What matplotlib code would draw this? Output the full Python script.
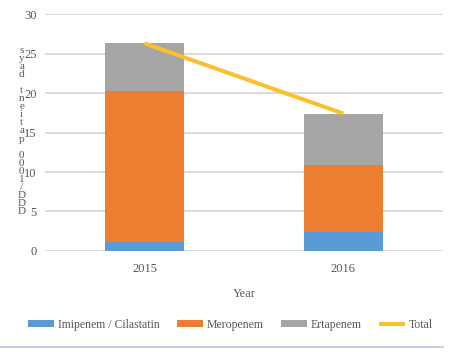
import matplotlib.pyplot as plt
from matplotlib.lines import Line2D

plt.rcParams['font.family'] = ['Liberation Serif', 'DejaVu Serif']

years = ['2015', '2016']
imipenem = [1.2, 2.45]
meropenem = [19.1, 8.45]
ertapenem = [6.0, 6.5]
total = [26.3, 17.4]

c_imi = '#5B9BD5'
c_mero = '#ED7D31'
c_erta = '#A5A5A5'
c_tot = '#FBC02D'
txt = '#595959'

fig = plt.figure(figsize=(4.52, 3.52), dpi=100)
ax = fig.add_axes([0.0996, 0.287, 0.880, 0.673])

x = range(len(years))
w = 0.4
b1 = ax.bar(x, imipenem, w, color=c_imi, label='Imipenem / Cilastatin', zorder=3)
bottom2 = imipenem
b2 = ax.bar(x, meropenem, w, bottom=bottom2, color=c_mero, label='Meropenem', zorder=3)
bottom3 = [a + b for a, b in zip(imipenem, meropenem)]
b3 = ax.bar(x, ertapenem, w, bottom=bottom3, color=c_erta, label='Ertapenem', zorder=3)
ln, = ax.plot(x, total, color=c_tot, lw=2.9, label='Total', zorder=4, solid_capstyle='butt')

ax.set_xlim(-0.5, 1.5)
ax.set_ylim(0, 30)
ax.set_yticks(range(0, 31, 5))
ax.set_xticks(list(x))
ax.set_xticklabels(years)
ax.yaxis.grid(True, color='#D9D9D9', lw=1.3, zorder=0)
ax.set_axisbelow(True)
for s in ax.spines.values():
    s.set_visible(False)
ax.tick_params(length=0, labelsize=9, labelcolor=txt)
ax.tick_params(axis='y', pad=6)
ax.tick_params(axis='x', pad=9)
ax.set_xlabel('Year', fontsize=9, color=txt, labelpad=9)

# stacked vertical y label as in the reference
ylab = 'DDD/1000 patient days'[::-1]
fig.text(0.048, 0.628, '\n'.join(ylab), fontsize=8, color=txt, ha='center', va='center',
         linespacing=0.87)

leg = fig.legend(handles=[b1, b2, b3, ln], loc='center', bbox_to_anchor=(0.51, 0.077), ncol=4,
                 frameon=False, fontsize=8.5, handlelength=2.2, handleheight=0.5,
                 columnspacing=1.5, handletextpad=0.3)
for t in leg.get_texts():
    t.set_color(txt)

fig.add_artist(Line2D([0, 0.98], [0.014, 0.014], color='#B4C7E7', lw=1.2, transform=fig.transFigure))

fig.savefig('out.png', dpi=100)
